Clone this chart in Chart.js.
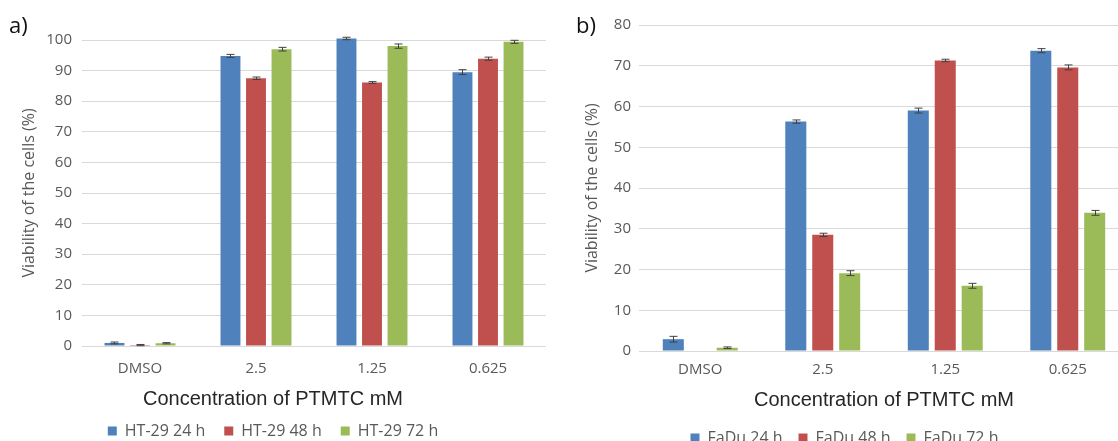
<!DOCTYPE html>
<html>
<head>
<meta charset="utf-8">
<script src="https://cdn.jsdelivr.net/npm/chart.js@4.4.1/dist/chart.umd.min.js"></script>
<style>
  html, body { margin: 0; padding: 0; background: #fff; }
  body { width: 1118px; height: 441px; position: relative; overflow: hidden; }
  .wrap { position: absolute; top: 0; height: 441px; }
  #wrapA { left: 0; width: 556px; }
  #wrapB { left: 560px; width: 606px; }
  .tag { position: absolute; font: 22px "Open Sans", sans-serif; line-height: 22px; color: #111; }
</style>
</head>
<body>
<div class="wrap" id="wrapA"><canvas id="chartA"></canvas></div>
<div class="wrap" id="wrapB"><canvas id="chartB"></canvas></div>
<div class="tag" style="left:9px; top:13px;">a)</div>
<div class="tag" style="left:576px; top:13px;">b)</div>
<script>
const categories = ["DMSO", "2.5", "1.25", "0.625"];

const htLabels = ["HT-29 24 h", "HT-29 48 h", "HT-29 72 h"];
const ht24 = [1.0, 94.8, 100.5, 89.5];
const ht48 = [0.3, 87.5, 86.1, 93.9];
const ht72 = [0.9, 97.0, 98.0, 99.4];
const ht24Err = [0.3, 0.5, 0.4, 0.8];
const ht48Err = [0.2, 0.4, 0.3, 0.5];
const ht72Err = [0.2, 0.6, 0.7, 0.5];

const faLabels = ["FaDu 24 h", "FaDu 48 h", "FaDu 72 h"];
const fa24 = [2.9, 56.3, 59.0, 73.7];
const fa48 = [0, 28.5, 71.3, 69.6];
const fa72 = [0.8, 19.1, 16.0, 33.9];
const fa24Err = [0.7, 0.4, 0.6, 0.5];
const fa48Err = [0, 0.4, 0.3, 0.6];
const fa72Err = [0.2, 0.6, 0.6, 0.6];

const yTicksA = { max: 100, step: 10 };
const yTicksB = { max: 80, step: 10 };

const colors = ["#4f81bd", "#c0504d", "#9bbb59"];
const tickColor = "#595959";

// error bars drawn on top of every bar
const errorBars = {
  id: "errorBars",
  afterDatasetsDraw(chart) {
    const ctx = chart.ctx;
    const y = chart.scales.y;
    ctx.save();
    ctx.strokeStyle = "#404040";
    ctx.lineWidth = 1;
    chart.data.datasets.forEach((ds, i) => {
      const meta = chart.getDatasetMeta(i);
      meta.data.forEach((bar, j) => {
        const e = ds.errors[j];
        if (!e) return;
        const v = ds.data[j];
        const x = Math.round(bar.x) + 0.5;
        const top = y.getPixelForValue(v + e);
        const bot = y.getPixelForValue(v - e);
        ctx.beginPath();
        ctx.moveTo(x, top); ctx.lineTo(x, bot);
        ctx.moveTo(x - 4, top); ctx.lineTo(x + 4, top);
        ctx.moveTo(x - 4, bot); ctx.lineTo(x + 4, bot);
        ctx.stroke();
      });
    });
    ctx.restore();
  }
};

function makeChart(id, names, series, errors, ticks, lay) {
  const datasets = series.map((d, i) => ({
    label: names[i],
    data: d,
    errors: errors[i],
    backgroundColor: colors[i],
    categoryPercentage: 0.66,
    barPercentage: 0.78,
    clip: false,
  }));
  return new Chart(document.getElementById(id), {
    type: "bar",
    data: { labels: categories, datasets },
    plugins: [errorBars],
    options: {
      responsive: true,
      maintainAspectRatio: false,
      animation: false,
      layout: { padding: { left: 0, right: lay.padRight, top: lay.top, bottom: 0 } },
      scales: {
        x: {
          grid: { display: false },
          border: { display: false },
          ticks: { color: tickColor, font: { family: "Open Sans", size: 15 }, padding: lay.xTickPad },
          afterFit: (s) => { s.height = 34; },
        },
        y: {
          min: 0,
          max: ticks.max,
          grid: { color: "#d9d9d9", drawTicks: false },
          border: { display: false },
          ticks: { stepSize: ticks.step, color: tickColor, font: { family: "Open Sans", size: 15 }, padding: lay.yTickPad },
          title: {
            display: true,
            text: "Viability of the cells (%)",
            color: tickColor,
            font: { family: "Open Sans", size: 16 },
            padding: { top: lay.yTitlePad, bottom: 0 },
          },
          afterFit: (s) => { s.width = lay.yWidth; },
        },
      },
      plugins: {
        title: {
          display: true,
          position: "bottom",
          weight: 500,
          fullSize: lay.titleFull,
          text: "Concentration of PTMTC mM",
          color: "#262626",
          font: { family: "Liberation Sans", size: 20, weight: "normal" },
          padding: { top: lay.titleTop, bottom: lay.titleBottom },
        },
        legend: {
          position: "bottom",
          maxHeight: lay.legendHeight,
          labels: {
            boxWidth: 9,
            boxHeight: 9,
            padding: lay.legendPad,
            color: tickColor,
            font: { family: "Open Sans", size: 16 },
          },
        },
        tooltip: { enabled: false },
      },
    },
  });
}

makeChart("chartA", htLabels, [ht24, ht48, ht72], [ht24Err, ht48Err, ht72Err], yTicksA, {
  padRight: 10, top: 40, xTickPad: 6, yTickPad: 10, yTitlePad: 20, yWidth: 82,
  titleFull: true, titleTop: 7, titleBottom: -7, legendHeight: 37, legendPad: 19,
});
makeChart("chartB", faLabels, [fa24, fa48, fa72], [fa24Err, fa48Err, fa72Err], yTicksB, {
  padRight: 37, top: 25, xTickPad: 2, yTickPad: 8, yTitlePad: 23, yWidth: 79,
  titleFull: false, titleTop: 3, titleBottom: 2, legendHeight: 27, legendPad: 16,
});
</script>
</body>
</html>
